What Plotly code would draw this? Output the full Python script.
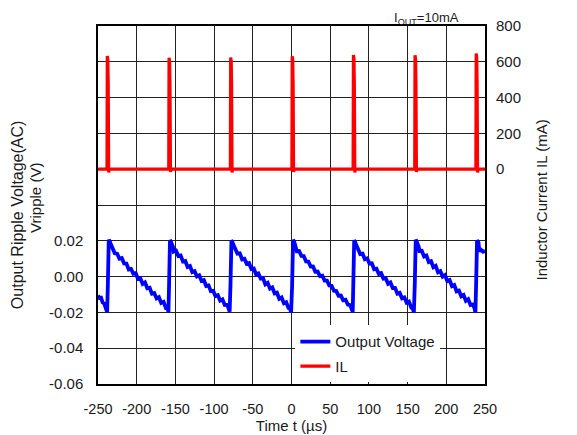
import plotly.graph_objects as go

# ---- Output ripple voltage (V) ----
vout_time = [
    -250, -248, -246, -244, -242, -240, -238.2,
    -237.3, -236.7, -236.1, -235.1, -233.8, -232.3, -231.3, -228.3, -225.3, -222.3, -219.3, -216.3,
    -213.3, -210.3, -207.3, -204.3, -201.3, -198.3, -195.3, -192.3, -189.3, -186.3, -183.3, -180.3,
    -177.3, -174.3, -171.3, -168.3, -165.3, -162.3, -160.3, -159.0,
    -158.2, -157.6, -157.0, -156.0, -154.7, -153.2, -152.2, -149.2, -146.2, -143.2, -140.2, -137.2,
    -134.2, -131.2, -128.2, -125.2, -122.2, -119.2, -116.2, -113.2, -110.2, -107.2, -104.2, -101.2,
    -98.2, -95.2, -92.2, -89.2, -86.2, -83.2, -81.2, -79.9,
    -78.8, -78.2, -77.6, -76.6, -75.3, -73.8, -72.8, -69.8, -66.8, -63.8, -60.8, -57.8,
    -54.8, -51.8, -48.8, -45.8, -42.8, -39.8, -36.8, -33.8, -30.8, -27.8, -24.8, -21.8,
    -18.8, -15.8, -12.8, -9.8, -6.8, -3.8, -1.8, -0.5,
    0.8, 1.4, 2.0, 3.0, 4.3, 5.8, 6.8, 9.8, 12.8, 15.8, 18.8, 21.8,
    24.8, 27.8, 30.8, 33.8, 36.8, 39.8, 42.8, 45.8, 48.8, 51.8, 54.8, 57.8,
    60.8, 63.8, 66.8, 69.8, 72.8, 75.8, 77.8, 79.1,
    79.8, 80.4, 81.0, 82.0, 83.3, 84.8, 85.8, 88.8, 91.8, 94.8, 97.8, 100.8,
    103.8, 106.8, 109.8, 112.8, 115.8, 118.8, 121.8, 124.8, 127.8, 130.8, 133.8, 136.8,
    139.8, 142.8, 145.8, 148.8, 151.8, 154.8, 156.8, 158.1,
    159.3, 159.9, 160.5, 161.5, 162.8, 164.3, 165.3, 168.3, 171.3, 174.3, 177.3, 180.3,
    183.3, 186.3, 189.3, 192.3, 195.3, 198.3, 201.3, 204.3, 207.3, 210.3, 213.3, 216.3,
    219.3, 222.3, 225.3, 228.3, 231.3, 234.3, 236.3, 237.6,
    238.5, 239.1, 239.7, 240.7, 241.6, 242.6, 244.0, 245.5, 247.5, 250,
]
vout_value = [
    -0.0105, -0.0120, -0.0118, -0.0145, -0.0150, -0.0178, -0.0198,
    -0.005, 0.007, 0.0205, 0.0200, 0.0185, 0.0170, 0.0158, 0.0130, 0.0128, 0.0100, 0.0104, 0.0074,
    0.0073, 0.0040, 0.0043, 0.0016, 0.0020, -0.0013, -0.0009, -0.0041, -0.0032, -0.0065, -0.0062, -0.0096,
    -0.0092, -0.0122, -0.0115, -0.0147, -0.0141, -0.0175, -0.0172, -0.0198,
    -0.005, 0.008, 0.0203, 0.0198, 0.0182, 0.0166, 0.0140, 0.0145, 0.0115, 0.0118, 0.0084, 0.0087,
    0.0054, 0.0059, 0.0025, 0.0030, 0.0001, 0.0007, -0.0024, -0.0020, -0.0052, -0.0049, -0.0081, -0.0079,
    -0.0109, -0.0104, -0.0134, -0.0127, -0.0158, -0.0157, -0.0178, -0.0196,
    -0.004, 0.009, 0.0200, 0.0197, 0.0180, 0.0168, 0.0153, 0.0128, 0.0130, 0.0096, 0.0100, 0.0071,
    0.0075, 0.0042, 0.0045, 0.0013, 0.0018, -0.0011, -0.0008, -0.0043, -0.0035, -0.0067, -0.0060, -0.0094,
    -0.0090, -0.0124, -0.0117, -0.0149, -0.0143, -0.0176, -0.0180, -0.0200,
    -0.005, 0.008, 0.0204, 0.0199, 0.0183, 0.0165, 0.0142, 0.0143, 0.0116, 0.0115, 0.0085, 0.0084,
    0.0056, 0.0057, 0.0027, 0.0028, 0.0003, 0.0005, -0.0022, -0.0022, -0.0050, -0.0051, -0.0079, -0.0081,
    -0.0107, -0.0106, -0.0132, -0.0129, -0.0156, -0.0159, -0.0176, -0.0197,
    -0.005, 0.007, 0.0203, 0.0196, 0.0181, 0.0167, 0.0155, 0.0126, 0.0128, 0.0097, 0.0102, 0.0072,
    0.0074, 0.0041, 0.0044, 0.0015, 0.0019, -0.0012, -0.0010, -0.0040, -0.0033, -0.0064, -0.0063, -0.0095,
    -0.0091, -0.0121, -0.0116, -0.0146, -0.0140, -0.0174, -0.0179, -0.0201,
    -0.004, 0.009, 0.0206, 0.0199, 0.0184, 0.0168, 0.0143, 0.0144, 0.0112, 0.0118, 0.0081, 0.0086,
    0.0052, 0.0060, 0.0024, 0.0031, 0.0000, 0.0008, -0.0025, -0.0019, -0.0053, -0.0047, -0.0082, -0.0078,
    -0.0110, -0.0103, -0.0135, -0.0126, -0.0159, -0.0156, -0.0175, -0.0199,
    -0.005, 0.008, 0.0203, 0.0197, 0.0190, 0.0140, 0.0152, 0.0145, 0.0139, 0.0144,
]

# ---- Inductor current IL (mA) ----
il_time = [
    -250,
    -238.4, -238.0, -237.3, -236.8, -236.7, -236.2, -235.6,
    -158.6, -158.2, -157.5, -157.0, -156.9, -156.4, -155.8,
    -79.0, -78.6, -77.9, -77.4, -77.3, -76.8, -76.2,
    0.5, 0.9, 1.6, 2.1, 2.2, 2.7, 3.3,
    79.6, 80.0, 80.7, 81.2, 81.3, 81.8, 82.4,
    159.2, 159.6, 160.3, 160.8, 160.9, 161.4, 162.0,
    238.2, 238.6, 239.3, 239.8, 239.9, 240.4, 241.0,
    250,
]
il_value = [
    0,
    0, 633, 612, 470, 0, -18, 0,
    0, 622, 602, 465, 0, -15, 0,
    0, 624, 604, 470, 0, -18, 0,
    0, 631, 611, 468, 0, -16, 0,
    0, 638, 618, 472, 0, -18, 0,
    0, 637, 617, 470, 0, -16, 0,
    0, 646, 626, 475, 0, -18, 0,
    0,
]

# ---- Axis ticks ----
x_ticks = [-250, -200, -150, -100, -50, 0, 50, 100, 150, 200, 250]
v_ticks = [-0.06, -0.04, -0.02, 0.00, 0.02]
v_labels = ["-0.06", "-0.04", "-0.02", "0.00", "0.02"]
v_extra_grid = [0.04, 0.06, 0.08, 0.10, 0.12, 0.14]
il_ticks = [0, 200, 400, 600, 800]

FONT = "Arial, Liberation Sans, sans-serif"
TXT = "#1a1a1a"
GRID = "#222222"

fig = go.Figure()
fig.add_trace(go.Scatter(
    x=vout_time, y=vout_value, mode="lines", name="Output Voltage",
    line=dict(color="#0000ff", width=3.8), yaxis="y", legendgroup="v",
))
fig.add_trace(go.Scatter(
    x=il_time, y=il_value, mode="lines", name="IL",
    line=dict(color="#ff0000", width=3.2), yaxis="y2", legendgroup="i",
))


def side_title(text, x, y, size):
    return dict(
        text=text, xref="paper", yref="paper", x=x, y=y,
        xanchor="center", yanchor="middle", textangle=-90,
        showarrow=False, font=dict(size=size, color=TXT),
    )


# the page adds an 8px body margin, so the figure is 8px smaller and drawn at (8, 8)
fig.update_layout(
    width=569, height=427,
    margin=dict(l=90, r=92, t=18, b=51, autoexpand=False),
    paper_bgcolor="white", plot_bgcolor="white",
    font=dict(family=FONT, size=15, color=TXT),
    showlegend=True,
    legend=dict(
        x=0.51, y=0.164, xanchor="left", yanchor="top",
        bgcolor="white", borderwidth=0, font=dict(size=15, color=TXT),
        itemwidth=30, tracegroupgap=2,
    ),
    xaxis=dict(
        range=[-250, 250], tickvals=x_ticks, ticktext=[str(v) for v in x_ticks],
        showgrid=True, gridcolor=GRID, gridwidth=1, zeroline=False,
        showline=True, linecolor="black", linewidth=1.5, mirror=True,
        ticks="", ticklabelstandoff=11, tickfont=dict(size=14.5, color=TXT),
        automargin=False,
        title=dict(text="Time t (µs)", font=dict(size=15, color=TXT), standoff=4),
    ),
    yaxis=dict(
        range=[-0.06, 0.14], tickvals=v_ticks, ticktext=v_labels,
        showgrid=True, gridcolor=GRID, gridwidth=1, zeroline=False,
        minor=dict(tickvals=v_extra_grid, showgrid=True, gridcolor=GRID,
                   gridwidth=1, ticks=""),
        showline=True, linecolor="black", linewidth=1.5, mirror=True,
        ticks="", ticklabelstandoff=10, tickfont=dict(size=15, color=TXT),
        automargin=False,
    ),
    yaxis2=dict(
        range=[-1200, 800], tickvals=il_ticks, ticktext=[str(v) for v in il_ticks],
        overlaying="y", side="right", showgrid=False, zeroline=False,
        showline=False, ticks="", ticklabelstandoff=10,
        tickfont=dict(size=15, color=TXT), automargin=False,
    ),
    annotations=[
        dict(
            text="I<sub>OUT</sub>=10mA", xref="paper", yref="paper",
            x=0.938, y=1.022, xanchor="right", yanchor="middle",
            showarrow=False, font=dict(size=13, color=TXT),
        ),
        side_title("Output Ripple Voltage(AC)", -0.209, 0.472, 16),
        side_title("Vripple (V)", -0.16, 0.52, 15),
        side_title("Inductor Current IL (mA)", 1.147, 0.515, 15),
    ],
)

fig.write_html("out.html")
